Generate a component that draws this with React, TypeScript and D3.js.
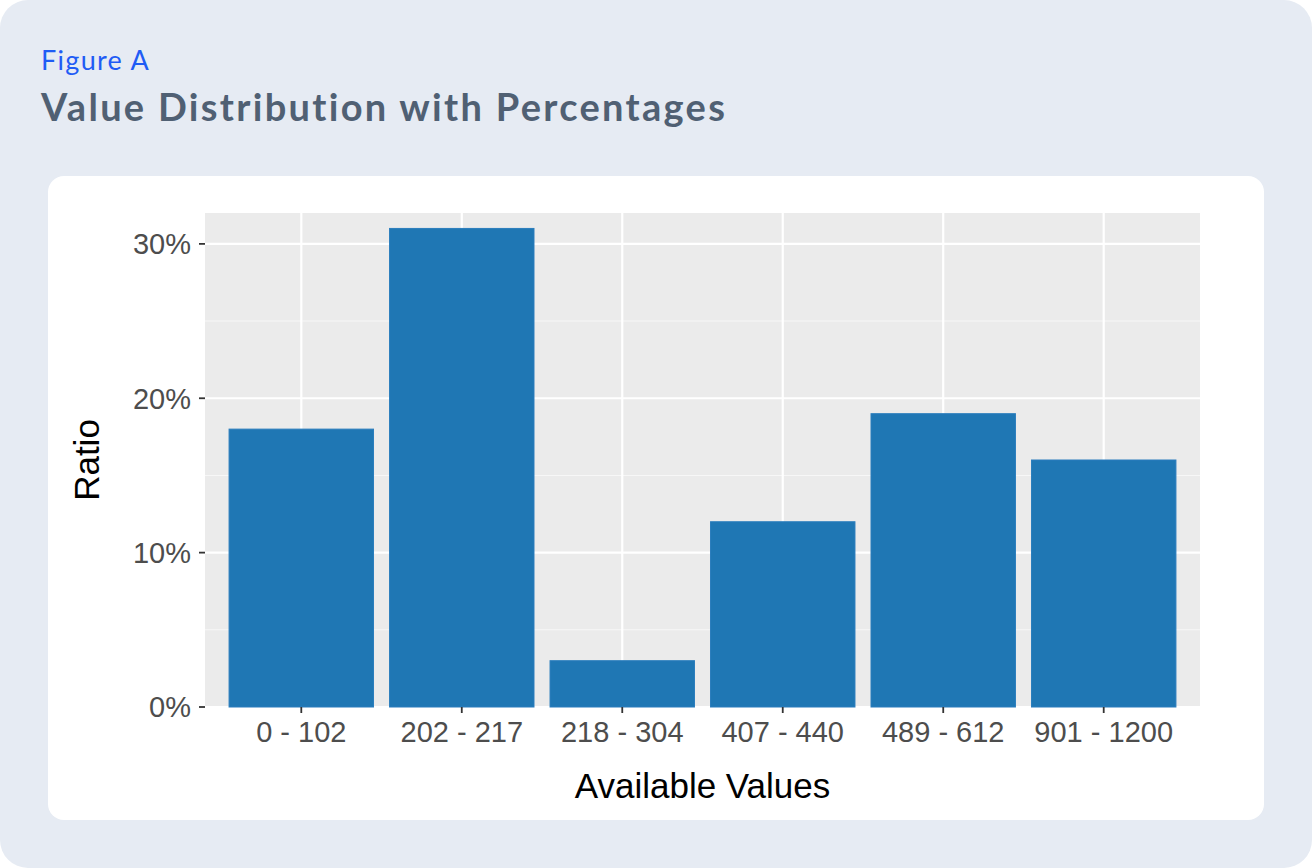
import * as d3 from 'd3';
import React from 'react';

// bins on the x axis and the share of values in each
const categories = ['0 - 102', '202 - 217', '218 - 304', '407 - 440', '489 - 612', '901 - 1200'];
const ratios = [0.18, 0.31, 0.03, 0.12, 0.19, 0.16];
const yTicks = [0, 0.1, 0.2, 0.3];
const yMinorTicks = [0.05, 0.15, 0.25];

const W = 1312;
const H = 868;
const panel = { left: 205, right: 1200, top: 213, bottom: 707 };

export default function App() {
  const x = d3
    .scaleBand<string>()
    .domain(categories)
    .range([panel.left, panel.right])
    .paddingInner(0.1)
    .paddingOuter(0.15);
  const y = d3.scaleLinear().domain([0, 0.32]).range([panel.bottom, panel.top]);
  const fmt = d3.format('.0%');
  const center = (c: string) => (x(c) as number) + x.bandwidth() / 2;
  const axisFont = '"Liberation Sans", Arial, Helvetica, sans-serif';
  const headFont = "Lato, 'Noto Sans', sans-serif";

  return (
    <svg
      width={W}
      height={H}
      style={{ position: 'absolute', left: 0, top: 0 }}
      fontFamily={axisFont}
    >
      <rect x={0} y={0} width={W} height={H} rx={28} fill="#e6ebf3" />
      <text x={41} y={70} fill="#1f5cf5" fontSize={27} letterSpacing={1.3} fontFamily={headFont}>
        Figure A
      </text>
      <text x={41} y={121} fill="#506073" fontSize={38} fontWeight={700} fontFamily={headFont} letterSpacing={2.3}>
        Value Distribution with Percentages
      </text>

      <rect x={48} y={176} width={1216} height={644} rx={16} fill="#ffffff" />

      {/* plot panel */}
      <rect
        x={panel.left}
        y={panel.top}
        width={panel.right - panel.left}
        height={panel.bottom - panel.top}
        fill="#ebebeb"
      />
      {yMinorTicks.map((t) => (
        <line key={'m' + t} x1={panel.left} x2={panel.right} y1={y(t)} y2={y(t)} stroke="#f7f7f7" strokeWidth={1.1} />
      ))}
      {yTicks.map((t) => (
        <line key={'g' + t} x1={panel.left} x2={panel.right} y1={y(t)} y2={y(t)} stroke="#ffffff" strokeWidth={2.2} />
      ))}
      {categories.map((c) => (
        <line key={'v' + c} x1={center(c)} x2={center(c)} y1={panel.top} y2={panel.bottom} stroke="#ffffff" strokeWidth={2.2} />
      ))}

      {categories.map((c, i) => (
        <rect
          key={c}
          x={x(c)}
          y={y(ratios[i])}
          width={x.bandwidth()}
          height={y(0) - y(ratios[i])}
          fill="#1f77b4"
          stroke="#2a7dbd"
          strokeWidth={1}
        />
      ))}

      {/* y axis */}
      {yTicks.map((t) => (
        <g key={'y' + t}>
          <line x1={panel.left - 6} x2={panel.left} y1={y(t)} y2={y(t)} stroke="#333333" strokeWidth={1.8} />
          <text x={panel.left - 14} y={y(t)} dy="0.36em" textAnchor="end" fontSize={29} fill="#4d4d4d">
            {fmt(t)}
          </text>
        </g>
      ))}
      {/* x axis */}
      {categories.map((c) => (
        <g key={'x' + c}>
          <line x1={center(c)} x2={center(c)} y1={panel.bottom} y2={panel.bottom + 6} stroke="#333333" strokeWidth={1.8} />
          <text x={center(c)} y={panel.bottom + 35} textAnchor="middle" fontSize={29} fill="#4d4d4d">
            {c}
          </text>
        </g>
      ))}

      <text x={(panel.left + panel.right) / 2} y={798} textAnchor="middle" fontSize={35} fill="#000000">
        Available Values
      </text>
      <text
        transform={`translate(99,${(panel.top + panel.bottom) / 2}) rotate(-90)`}
        textAnchor="middle"
        fontSize={35}
        fill="#000000"
      >
        Ratio
      </text>
    </svg>
  );
}
